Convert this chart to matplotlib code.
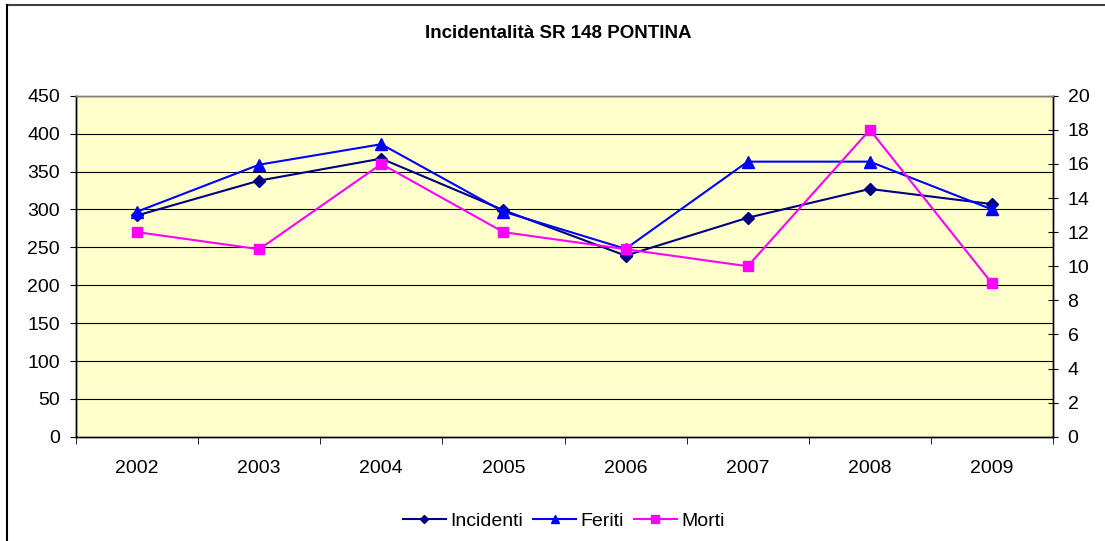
import matplotlib

matplotlib.use("Agg")
import matplotlib.pyplot as plt
from matplotlib.lines import Line2D
import numpy as np

plt.rcParams["font.family"] = ["Liberation Sans", "DejaVu Sans"]

YEARS = ["2002", "2003", "2004", "2005", "2006", "2007", "2008", "2009"]
INCIDENTI = [292, 338, 367, 299, 239, 289, 327, 307]
FERITI = [297, 359, 386, 297, 248, 363, 363, 300]
MORTI = [12, 11, 16, 12, 11, 10, 18, 9]

W, H = 1105, 541
fig = plt.figure(figsize=(W / 100, H / 100), dpi=100)

# chart-area border (only top and left edge fall inside the image)
fig.add_artist(Line2D([7 / W, 1], [1 - 5 / H, 1 - 5 / H], color="#404040", lw=1.5))
fig.add_artist(Line2D([7 / W, 7 / W], [0, 1 - 5 / H], color="black", lw=1.5))

ax = fig.add_axes([76 / W, 1 - 436.8 / H, (1053 - 76) / W, (436.8 - 95.7) / H])
ax.set_facecolor("#FFFFCC")

x = np.arange(len(YEARS))
ax.set_xlim(-0.5, len(YEARS) - 0.5)
ax.set_ylim(0, 450)
ax.set_yticks(range(0, 451, 50))
for v in range(50, 451, 50):
    ax.axhline(v, color="black", lw=0.8, zorder=1)

l1, = ax.plot(x, INCIDENTI, color="#000080", lw=1.5, marker="D", ms=6, zorder=3)
l2, = ax.plot(x, FERITI, color="#0000FF", lw=1.5, marker="^", ms=8, zorder=3)

ax2 = ax.twinx()
ax2.set_ylim(0, 20)
ax2.set_yticks(range(0, 21, 2))
l3, = ax2.plot(x, MORTI, color="#FF00FF", lw=1.5, marker="s", ms=7, zorder=3)

ax.set_xticks(x)
ax.set_xticklabels(YEARS)
ax.set_xticks(np.arange(-0.5, len(YEARS), 1), minor=True)
ax.tick_params(axis="x", which="major", length=0, pad=17, labelsize=14)
ax.tick_params(axis="x", which="minor", length=5, direction="out")
ax.tick_params(axis="y", length=4.5, direction="out", pad=7, labelsize=14)
ax2.tick_params(axis="y", length=7, direction="inout", pad=7, labelsize=14)

for a in (ax, ax2):
    for s in a.spines.values():
        s.set_color("black")
        s.set_linewidth(1)
    a.spines["top"].set_color("#808080")

fig.text(558 / W, 1 - 33 / H, "Incidentalità SR 148 PONTINA", ha="center", va="center",
         fontsize=13.5, fontweight="bold")

fig.legend([l1, l2, l3], ["Incidenti", "Feriti", "Morti"], loc="center", bbox_to_anchor=(564 / W, 1 - 521 / H),
           ncol=3, frameon=False, fontsize=14, handlelength=2.2, handletextpad=0.25, columnspacing=0.5,
           markerscale=0.75)

fig.savefig("out.png", dpi=100)
